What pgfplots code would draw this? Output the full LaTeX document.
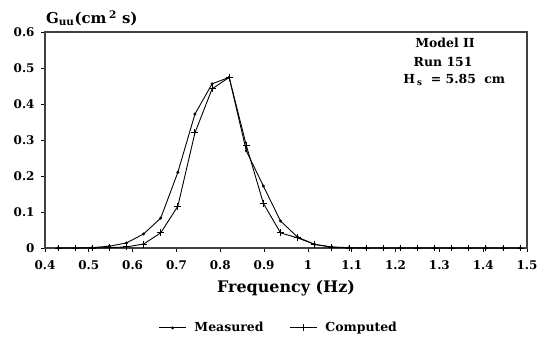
\documentclass[border=0pt]{standalone}
\usepackage{fontspec}
\setmainfont{DejaVu Serif}
\usepackage{pgfplots}
\pgfplotsset{compat=1.18}
\begin{document}
\begin{tikzpicture}
\path[use as bounding box] (-45bp,-90bp) rectangle (494bp,248bp);
\begin{axis}[
  at={(0,0)}, anchor=south west,
  scale only axis, width=482bp, height=216bp,
  clip mode=individual,
  xmin=0.4, xmax=1.5, ymin=0, ymax=0.6,
  xtick={0.4,0.5,...,1.5},
  xticklabels={0.4,0.5,0.6,0.7,0.8,0.9,1,1.1,1.2,1.3,1.4,1.5},
  ytick={0,0.1,...,0.6},
  yticklabels={0,0.1,0.2,0.3,0.4,0.5,0.6},
  tick pos=left, tick align=outside,
  major tick length=4bp,
  tick style={black, line width=0.8pt},
  axis line style={black!75, line width=1.3pt},
  /pgf/number format/assume math mode=true,
  tick label style={font=\fontsize{12}{14}\selectfont\bfseries},
  xticklabel style={yshift=-5bp},
  yticklabel style={xshift=-3bp},
  xlabel={Frequency (Hz)},
  xlabel style={font=\fontsize{16}{18}\selectfont\bfseries, at={(axis description cs:0.5,-0.185)}, anchor=center},
  legend columns=2,
  legend style={draw=none, fill=none, at={(axis description cs:0.485,-0.37)}, anchor=center,
    font=\fontsize{12.5}{15}\selectfont\bfseries,
    /tikz/every even column/.append style={column sep=24bp},
    /tikz/every odd column/.append style={column sep=6bp}},
  legend image code/.code={\draw[mark repeat=2,mark phase=2,#1] plot coordinates {(0bp,0bp)(13.5bp,0bp)(27bp,0bp)};},
]
\addplot[black, line width=0.9pt, mark=*, mark size=1pt] coordinates {
(0.4297,0) (0.4688,0) (0.5078,0.001) (0.5469,0.005) (0.5859,0.014) (0.6250,0.039)
(0.6641,0.083) (0.7031,0.21) (0.7422,0.372) (0.7813,0.456) (0.8203,0.474) (0.8594,0.27)
(0.8984,0.172) (0.9375,0.075) (0.9766,0.03) (1.0156,0.01) (1.0547,0.003) (1.0938,0.001)
(1.1328,0) (1.1719,0) (1.2109,0) (1.25,0) (1.2891,0) (1.3281,0) (1.3672,0) (1.4063,0) (1.4453,0) (1.4844,0)
};
\addlegendentry{Measured}
\addplot[black, line width=0.9pt, mark=+, mark size=3.5pt] coordinates {
(0.4297,0) (0.4688,0) (0.5078,0) (0.5469,0.001) (0.5859,0.003) (0.6250,0.011)
(0.6641,0.042) (0.7031,0.116) (0.7422,0.32) (0.7813,0.442) (0.8203,0.474) (0.8594,0.285)
(0.8984,0.124) (0.9375,0.042) (0.9766,0.028) (1.0156,0.01) (1.0547,0.002) (1.0938,0)
(1.1328,0) (1.1719,0) (1.2109,0) (1.25,0) (1.2891,0) (1.3281,0) (1.3672,0) (1.4063,0) (1.4453,0) (1.4844,0)
};
\addlegendentry{Computed}
\node[anchor=west, font=\fontsize{15}{17}\selectfont\bfseries] at (axis description cs:-0.005,1.065) {G\textsubscript{uu}(cm\,\textsuperscript{2} s)};
\node[font=\fontsize{12.5}{15}\selectfont\bfseries] at (axis description cs:0.830,0.949) {Model II};
\node[font=\fontsize{12.5}{15}\selectfont\bfseries] at (axis description cs:0.826,0.861) {Run 151};
\node[font=\fontsize{12.5}{15}\selectfont\bfseries] at (axis description cs:0.849,0.778) {H\,\textsubscript{s}\hspace{4bp} = 5.85\hspace{4bp} cm};
\end{axis}
\end{tikzpicture}
\end{document}
